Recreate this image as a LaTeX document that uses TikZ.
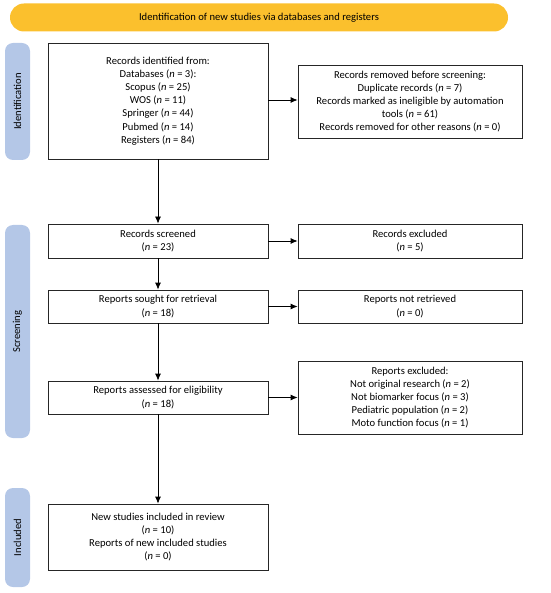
\documentclass[tikz,border=0pt]{standalone}
\usepackage{fontspec}
\setmainfont{Carlito}
\usetikzlibrary{arrows.meta}
\definecolor{barblue}{HTML}{B4C7E7}
\definecolor{baryellow}{HTML}{FBC02D}
\tikzset{
  box/.style={draw=black!85, line width=0.8pt, fill=white, align=center, font=\fontsize{10.6}{13.2}\selectfont, inner sep=2pt},
  side/.style={fill=barblue, rounded corners=8pt, minimum width=25pt, inner sep=0pt},
  sidetxt/.style={rotate=90, font=\fontsize{10.6}{12}\selectfont},
  arr/.style={-{Latex[length=7pt,width=6pt]}, line width=0.8pt, black}
}
\newcommand{\nn}{\textit{n}}
\begin{document}
\begin{tikzpicture}[x=1pt,y=-1pt]
\useasboundingbox (0,0) rectangle (550,593);
\node[fill=baryellow, rounded corners=14pt, minimum width=498pt, minimum height=28pt, font=\fontsize{10.6}{12}\selectfont] (top) at (259,17.5) {Identification of new studies via databases and registers};
\node[side, minimum height=117pt] (sid) at (17.5,101.5) {};
\node[sidetxt] (tid) at (sid.center) {Identification};
\node[side, minimum height=213pt] (ssc) at (17.5,331.5) {};
\node[sidetxt] (tsc) at (ssc.center) {Screening};
\node[side, minimum height=99pt] (sin) at (17.5,537.5) {};
\node[sidetxt] (tin) at (sin.center) {Included};

\node[box, minimum width=220pt, minimum height=116pt] (b1) at (158,101) {Records identified from:\\Databases (\nn{} = 3):\\Scopus (\nn{} = 25)\\WOS (\nn{} = 11)\\Springer (\nn{} = 44)\\Pubmed (\nn{} = 14)\\Registers (\nn{} = 84)};
\node[box, minimum width=224pt, minimum height=73pt] (r1) at (410,101.5) {Records removed before screening:\\Duplicate records (\nn{} = 7)\\Records marked as ineligible by automation\\tools (\nn{} = 61)\\Records removed for other reasons (\nn{} = 0)};
\node[box, minimum width=220pt, minimum height=34pt] (b2) at (158,241) {Records screened\\(\nn{} = 23)};
\node[box, minimum width=224pt, minimum height=34pt] (r2) at (410,241) {Records excluded\\(\nn{} = 5)};
\node[box, minimum width=220pt, minimum height=33pt] (b3) at (158,306.5) {Reports sought for retrieval\\(\nn{} = 18)};
\node[box, minimum width=224pt, minimum height=33pt] (r3) at (410,306.5) {Reports not retrieved\\(\nn{} = 0)};
\node[box, minimum width=220pt, minimum height=33pt] (b4) at (158,397.5) {Reports assessed for eligibility\\(\nn{} = 18)};
\node[box, minimum width=224pt, minimum height=73pt] (r4) at (410,397.5) {Reports excluded:\\Not original research (\nn{} = 2)\\Not biomarker focus (\nn{} = 3)\\Pediatric population (\nn{} = 2)\\Moto function focus (\nn{} = 1)};
\node[box, minimum width=220pt, minimum height=66pt] (b5) at (158,537) {New studies included in review\\(\nn{} = 10)\\Reports of new included studies\\(\nn{} = 0)};

\draw[arr] (b1.east |- 0,100) -- (r1.west |- 0,100);
\draw[arr] (b2) -- (r2);
\draw[arr] (b3) -- (r3);
\draw[arr] (b4) -- (r4.west |- b4.east);
\draw[arr] (b1) -- (b2);
\draw[arr] (b2) -- (b3);
\draw[arr] (b3) -- (b4);
\draw[arr] (b4) -- (b5);
\end{tikzpicture}
\end{document}
